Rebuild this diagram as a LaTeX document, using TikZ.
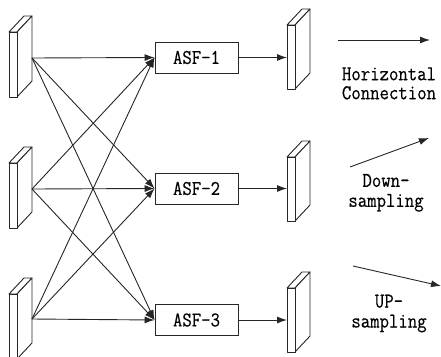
\documentclass[tikz,border=0pt]{standalone}
\usepackage{fontspec}
\setmonofont[FakeStretch=0.87,FakeBold=0.4]{Latin Modern Mono}
\usetikzlibrary{arrows.meta}
\tikzset{
  ln/.style={line width=0.9pt, draw=black!85},
  arr/.style={ln, -{Latex[length=10pt,width=7pt]}},
  asf/.style={ln, draw, fill=white, minimum width=83pt, minimum height=31pt, inner sep=0pt, font=\lbl},
  slabface/.style={ln, fill=white, line join=round},
  txt/.style={inner sep=0pt, anchor=north, align=center},
}
\newcommand\lbl{\ttfamily\fontsize{21}{21}\selectfont}
% \myslab{x}{ytop}{height}
\newcommand\myslab[3]{%
  \draw[slabface] (#1,#2) -- (#1+15,#2-16) -- (#1+23,#2-16) -- (#1+8,#2) -- cycle;
  \draw[slabface] (#1+8,#2) -- (#1+23,#2-16) -- (#1+23,#2+#3-16) -- (#1+8,#2+#3) -- cycle;
  \draw[slabface] (#1,#2) rectangle (#1+8,#2+#3);
}
\begin{document}
\begin{tikzpicture}[x=1pt,y=-1pt]
\useasboundingbox (0,0) rectangle (441,356);
% left slabs
\myslab{9}{32}{65}
\myslab{9}{163}{65}
\myslab{9}{294}{65}
\coordinate (L1) at (32,58);
\coordinate (L2) at (32,189);
\coordinate (L3) at (32,319);
% ASF boxes
\node[asf] (A1) at (196.5,57.5) {ASF-1};
\node[asf] (A2) at (196.5,188.5) {ASF-2};
\node[asf] (A3) at (196.5,320) {ASF-3};
% right slabs
\myslab{287}{25}{64}
\myslab{287}{157}{64}
\myslab{287}{288}{64}
\coordinate (R1) at (287,57.5);
\coordinate (R2) at (287,188.5);
\coordinate (R3) at (287,320);
% connections
\foreach \i in {1,2,3}{
  \foreach \j in {1,2,3}{
    \draw[arr] (L\i) -- (A\j.west);
  }
  \draw[arr] (A\i.east) -- (R\i);
}
% legend
\coordinate (h0) at (338,40); \coordinate (h1) at (430,40);
\draw[arr] (h0) -- (h1);
\node[txt, font=\ttfamily\fontsize{21}{19}\selectfont] (ht) at (389,67.2) {Horizontal\\Connection};
\coordinate (d0) at (350,167); \coordinate (d1) at (429,138);
\draw[arr] (d0) -- (d1);
\node[txt, font=\ttfamily\fontsize{21}{20}\selectfont] (dt) at (386,173.8) {Down-\\sampling};
\coordinate (u0) at (353,266); \coordinate (u1) at (441,286);
\draw[arr] (u0) -- (u1);
\node[txt, font=\ttfamily\fontsize{21}{20}\selectfont] (ut) at (389,294.5) {UP-\\sampling};
\end{tikzpicture}
\end{document}
